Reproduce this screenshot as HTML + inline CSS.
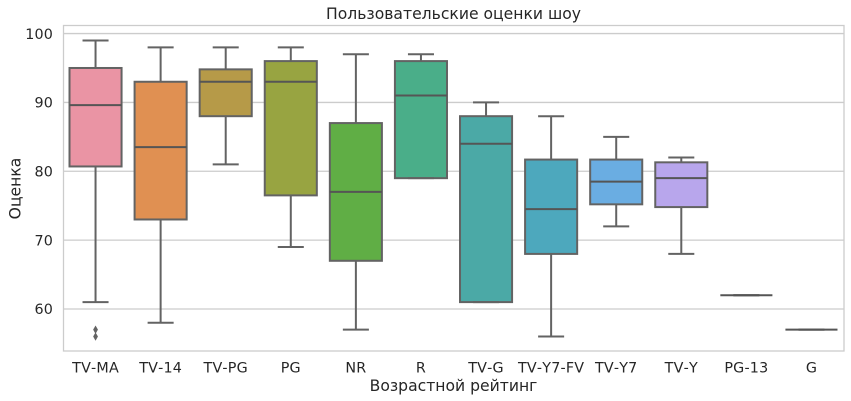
<!DOCTYPE html>
<html lang="ru">
<head>
<meta charset="utf-8">
<title>Пользовательские оценки шоу</title>
<style>
html,body{margin:0;padding:0;background:#fff;width:851px;height:401px;overflow:hidden}
svg{display:block}
text{font-family:"DejaVu Sans","Liberation Sans",sans-serif;fill:#262626;font-kerning:none}
</style>
</head>
<body>
<svg id="chart" width="851" height="401" viewBox="0 0 851 401" xmlns="http://www.w3.org/2000/svg">
  <text x="453.5" y="19" font-size="15.6" text-anchor="middle">Пользовательские оценки шоу</text>
  <text x="453.5" y="391" font-size="15.6" text-anchor="middle">Возрастной рейтинг</text>
  <text transform="translate(20.5,188.5) rotate(-90)" font-size="15.6" text-anchor="middle">Оценка</text>
  <g id="grid"></g>
  <g id="boxes"></g>
  <rect x="63.5" y="25.5" width="780.5" height="325.5" fill="none" stroke="#cccccc" stroke-width="1.3"></rect>
  <g id="xticks"></g>
  <g id="yticks"></g>
</svg>
<script>
const categories = ['TV-MA','TV-14','TV-PG','PG','NR','R','TV-G','TV-Y7-FV','TV-Y7','TV-Y','PG-13','G'];
const whiskerLow = [61,58,81,69,57,79,61,56,72,68,62,57];
const quartile1 = [80.7,73,88,76.5,67,79,61,68,75.2,74.8,62,57];
const medians = [89.6,83.5,93,93,77,91,84,74.5,78.5,79,62,57];
const quartile3 = [95,93,94.8,96,87,96,88,81.7,81.7,81.3,62,57];
const whiskerHigh = [99,98,98,98,97,97,90,88,85,82,62,57];
const outliers = [[56,57],[],[],[],[],[],[],[],[],[],[],[]];
const yTicks = [60,70,80,90,100];
const fills = ['#ea94a4','#e09052','#b69a48','#98a441','#60ae45','#4aae89','#4ba9a6','#4da8bd','#6aade2','#b8a6ec','#d48ee6','#e78fc9'];

const NS = 'http://www.w3.org/2000/svg';
const LINE = '#636363';
const LW = 2;
const plotLeft = 63, plotWidth = 781, plotTop = 25.5, plotBottom = 351;
const yMin = 53.9, yMax = 101.17;
const xScale = i => plotLeft + (i + 0.5) * plotWidth / categories.length;
const yScale = v => plotBottom - (v - yMin) / (yMax - yMin) * (plotBottom - plotTop);
const bandWidth = 0.8 * plotWidth / categories.length;
const capWidth = bandWidth * 0.5;

function mk(tag, attrs, parent) {
  const el = document.createElementNS(NS, tag);
  for (const k in attrs) el.setAttribute(k, attrs[k]);
  parent.appendChild(el);
  return el;
}

const gridG = document.getElementById('grid');
const boxesG = document.getElementById('boxes');
const xG = document.getElementById('xticks');
const yG = document.getElementById('yticks');

yTicks.forEach(t => {
  const y = yScale(t);
  const g = mk('line', {x1: plotLeft, x2: plotLeft + plotWidth, y1: y, y2: y, stroke: '#cccccc', 'stroke-width': 1.3}, gridG);
  
  
  const l = mk('text', {x: 53, y: y + 5.2, 'font-size': 14.3, 'letter-spacing': 0.15, 'text-anchor': 'end'}, yG);
  
  
  l.textContent = t;
});

categories.forEach((c, i) => {
  const x = xScale(i);
  const lab = mk('text', {x: x, y: 372.5, 'font-size': 14.3, 'letter-spacing': 0.2, 'text-anchor': 'middle'}, xG);
  
  
  lab.textContent = c;

  const group = mk('g', {}, boxesG);
  
  

  const stroke = {stroke: LINE, 'stroke-width': LW, fill: 'none'};
  const yLow = yScale(whiskerLow[i]), yHigh = yScale(whiskerHigh[i]);
  const y1 = yScale(quartile1[i]), y3 = yScale(quartile3[i]), yM = yScale(medians[i]);

  const wl = mk('line', Object.assign({x1: x, x2: x, y1: y1, y2: yLow}, stroke), group);
  
  
  const wh = mk('line', Object.assign({x1: x, x2: x, y1: y3, y2: yHigh}, stroke), group);
  
  

  const box = mk('rect', {x: x - bandWidth / 2, y: y3, width: bandWidth, height: y1 - y3, fill: fills[i], stroke: LINE, 'stroke-width': LW}, group);
  
  

  const cl = mk('line', Object.assign({x1: x - capWidth / 2, x2: x + capWidth / 2, y1: yLow, y2: yLow}, stroke), group);
  
  
  const ch = mk('line', Object.assign({x1: x - capWidth / 2, x2: x + capWidth / 2, y1: yHigh, y2: yHigh}, stroke), group);
  
  
  const med = mk('line', {x1: x - bandWidth / 2, x2: x + bandWidth / 2, y1: yM, y2: yM, stroke: '#555555', 'stroke-width': LW, fill: 'none'}, group);
  
  

  outliers[i].forEach(v => {
    const oy = yScale(v);
    const d = mk('polygon', {points: [x + ',' + (oy - 4.2), (x + 2.4) + ',' + oy, x + ',' + (oy + 4.2), (x - 2.4) + ',' + oy].join(' '), fill: LINE}, group);
    
    
  });
});
</script>
</body>
</html>
